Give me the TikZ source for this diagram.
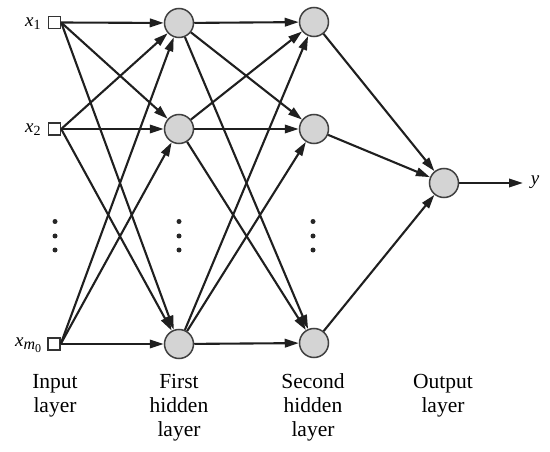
\documentclass[tikz,border=0pt]{standalone}
\usepackage{fontspec}
\setmainfont{Liberation Serif}
\usetikzlibrary{arrows.meta}
\begin{document}
\begin{tikzpicture}[x=1pt,y=-1pt,
  neuron/.style={circle,draw=black!75,line width=1.5pt,fill=black!17,minimum size=29pt,inner sep=0pt},
  inp/.style={rectangle,draw=black!80,line width=1.4pt,fill=white,minimum size=12pt,inner sep=0pt},
  conn/.style={line width=2.1pt,draw=black!88,-{Triangle[length=14pt,width=8.5pt]}},
  lab/.style={font=\fontsize{21.5}{24}\selectfont,align=center,anchor=north,inner sep=0pt},
  xlab/.style={font=\fontsize{19}{20}\selectfont,anchor=east,inner sep=0pt},
  vdot/.style={circle,fill=black!85,inner sep=0pt,minimum size=5pt}]
\useasboundingbox (0,0) rectangle (550,452);
% input layer
\node[inp] (i1) at (54.5,22.5) {};
\node[inp] (i2) at (54.5,129) {};
\node[inp] (i3) at (54,344) {};
% first hidden
\node[neuron] (h1) at (179,23) {};
\node[neuron] (h2) at (179,129) {};
\node[neuron] (h3) at (179,344) {};
% second hidden
\node[neuron] (s1) at (314,22) {};
\node[neuron] (s2) at (314,129) {};
\node[neuron] (s3) at (314,343) {};
% output
\node[neuron] (o) at (444,183) {};
\coordinate (yend) at (523,183);
% input labels
\node[xlab] (lx1) at ([xshift=-7pt,yshift=-1pt]i1.west) {\textit{x}\raisebox{-0.35ex}{\fontsize{14}{14}\selectfont 1}};
\node[xlab] (lx2) at ([xshift=-7pt,yshift=-1pt]i2.west) {\textit{x}\raisebox{-0.35ex}{\fontsize{14}{14}\selectfont 2}};
\node[xlab] (lx3) at ([xshift=-6pt,yshift=-1pt]i3.west) {\textit{x}\raisebox{-0.35ex}{\fontsize{16}{16}\selectfont\textit{m}\raisebox{-0.35ex}{\fontsize{12}{12}\selectfont 0}}};
\node[font=\fontsize{19}{20}\selectfont,inner sep=0pt] (ylab) at (535,182) {\textit{y}};
% connections
\foreach \a in {1,2,3}{
  \foreach \b in {1,2,3}{
    \draw[conn] (i\a.east) -- (h\b);
    \draw[conn] (h\a) -- (s\b);
  }
  \draw[conn] (s\a) -- (o);
}
\draw[conn] (o) -- (yend);
% dots
\foreach \xx/\nm in {55/a,179/b,313/c}{
  \node[vdot] (\nm1) at (\xx,221.5) {};
  \node[vdot] (\nm2) at (\xx,236) {};
  \node[vdot] (\nm3) at (\xx,250) {};
}
% layer labels
\node[lab] (l1) at (55,373) {\vphantom{Sd}Input\\layer};
\node[lab] (l2) at (179,373) {\vphantom{Sd}First\\hidden\\layer};
\node[lab] (l3) at (313,373) {\vphantom{Sd}Second\\hidden\\layer};
\node[lab] (l4) at (443,373) {\vphantom{Sd}Output\\layer};
\end{tikzpicture}
\end{document}
